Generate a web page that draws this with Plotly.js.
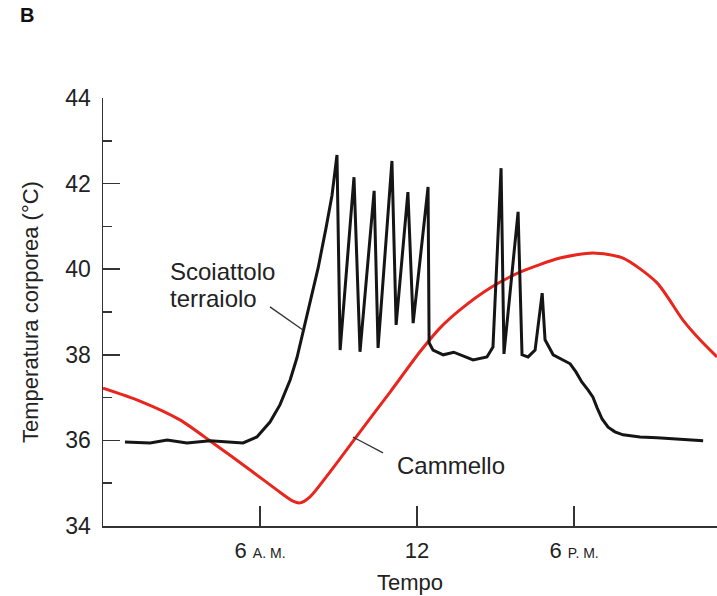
<!DOCTYPE html>
<html>
<head>
<meta charset="utf-8">
<script src="https://cdn.plot.ly/plotly-3.0.1.min.js"></script>
<style>html,body{margin:0;padding:0;background:#fff;}#chart{width:717px;height:596px;}</style>
</head>
<body>
<div id="chart"></div>
<script>
// Camel body temperature (hours since midnight, °C)
const camelHours = [0, 1.41, 2.94, 4.20, 5.62, 6.76, 7.26, 7.53, 7.91, 8.67, 9.82, 10.97, 12.11, 12.88, 13.64, 14.79, 15.93, 17.46, 18.72, 19.87, 21.17, 22.16, 22.81, 23.46];
const camelTemp  = [37.22, 36.92, 36.48, 35.94, 35.31, 34.79, 34.58, 34.54, 34.68, 35.26, 36.20, 37.13, 38.07, 38.63, 39.05, 39.56, 39.93, 40.26, 40.38, 40.26, 39.68, 38.81, 38.35, 37.95];

// Ground squirrel body temperature
const squirrelHours = [0.84, 1.80, 2.45, 3.21, 4.09, 5.35, 5.88, 6.38, 6.76, 7.15, 7.41, 7.64, 7.91, 8.22, 8.52, 8.75, 8.94, 9.06, 9.59, 9.82, 10.36, 10.51, 11.04, 11.20, 11.65, 11.85, 12.42, 12.46, 12.61, 13.0, 13.4, 13.64, 14.14, 14.67, 14.90, 15.21, 15.32, 15.86, 16.01, 16.24, 16.51, 16.78, 16.89, 17.20, 17.54, 17.85, 18.07, 18.30, 18.53, 18.72, 18.88, 19.07, 19.30, 19.56, 19.87, 20.52, 21.17, 22.05, 22.93];
const squirrelTemp  = [35.96, 35.94, 36.01, 35.94, 35.99, 35.94, 36.08, 36.43, 36.83, 37.41, 37.93, 38.53, 39.21, 40.03, 40.96, 41.73, 42.67, 38.11, 42.15, 38.07, 41.83, 38.16, 42.53, 38.70, 41.80, 38.74, 41.92, 38.28, 38.11, 38.00, 38.06, 38.00, 37.88, 37.95, 38.18, 42.36, 38.02, 41.34, 38.00, 37.95, 38.11, 39.44, 38.35, 38.00, 37.90, 37.79, 37.60, 37.36, 37.18, 37.01, 36.76, 36.50, 36.31, 36.20, 36.13, 36.08, 36.06, 36.03, 35.99];

const tickVals = [6, 12, 18];
const tickText = ['6 <span style="font-size:14px">A. M.</span>', '12', '6 <span style="font-size:14px">P. M.</span>'];
const yTicks = [34, 36, 38, 40, 42, 44];

const FONT = 'Liberation Sans, Arial, Helvetica, sans-serif';
const TXT = '#222222';

const traces = [
  {x: camelHours, y: camelTemp, mode: 'lines', line: {color: '#e8261e', width: 3, shape: 'spline', smoothing: 0.7}, hoverinfo: 'skip', showlegend: false},
  {x: squirrelHours, y: squirrelTemp, mode: 'lines', line: {color: '#151515', width: 3}, hoverinfo: 'skip', showlegend: false}
];

const layout = {
  width: 717, height: 596,
  margin: {l: 103, r: 0, t: 98, b: 70},
  paper_bgcolor: '#ffffff', plot_bgcolor: '#ffffff',
  font: {family: FONT, color: TXT, size: 22},
  showlegend: false,
  xaxis: {
    range: [0, 23.46], showgrid: false, zeroline: false,
    showline: true, linecolor: '#333', linewidth: 1.5,
    tickmode: 'array', tickvals: tickVals, ticktext: tickText,
    ticks: 'inside', ticklen: 20, tickwidth: 1.5, tickcolor: '#333',
    tickfont: {family: FONT, size: 22, color: TXT},
    ticklabelstandoff: 4,
    title: {text: 'Tempo', font: {family: FONT, size: 22, color: TXT}, standoff: 12}
  },
  yaxis: {
    range: [34, 44], showgrid: false, zeroline: false,
    showline: true, linecolor: '#333', linewidth: 1.5,
    tickmode: 'array', tickvals: yTicks,
    ticks: 'inside', ticklen: 17, tickwidth: 1.5, tickcolor: '#333',
    minor: {dtick: 1, ticks: 'inside', ticklen: 9, tickwidth: 1.5, tickcolor: '#333', showgrid: false},
    tickfont: {family: FONT, size: 23, color: TXT},
    ticklabelstandoff: 6,
    title: {text: 'Temperatura corporea (°C)', font: {family: FONT, size: 22, color: TXT}, standoff: 20}
  },
  annotations: [
    {xref: 'paper', yref: 'paper', x: -0.124, y: 1.193, xanchor: 'center', yanchor: 'middle', text: '<b>B</b>', showarrow: false, font: {family: FONT, size: 20, color: '#111'}},
    {xref: 'x', yref: 'y', x: 2.50, y: 39.95, xanchor: 'left', yanchor: 'middle', text: 'Scoiattolo', showarrow: false, font: {family: FONT, size: 24, color: TXT}},
    {xref: 'x', yref: 'y', x: 2.50, y: 39.32, xanchor: 'left', yanchor: 'middle', text: 'terraiolo', showarrow: false, font: {family: FONT, size: 24, color: TXT}},
    {xref: 'x', yref: 'y', x: 11.17, y: 35.42, xanchor: 'left', yanchor: 'middle', text: 'Cammello', showarrow: false, font: {family: FONT, size: 24, color: TXT}}
  ],
  shapes: [
    {type: 'line', xref: 'x', yref: 'y', x0: 6.38, y0: 39.12, x1: 7.64, y1: 38.58, line: {color: '#333', width: 1.3}},
    {type: 'line', xref: 'x', yref: 'y', x0: 9.55, y0: 36.08, x1: 10.70, y1: 35.71, line: {color: '#333', width: 1.3}}
  ]
};

Plotly.newPlot('chart', traces, layout, {staticPlot: true, displayModeBar: false});
</script>
</body>
</html>
